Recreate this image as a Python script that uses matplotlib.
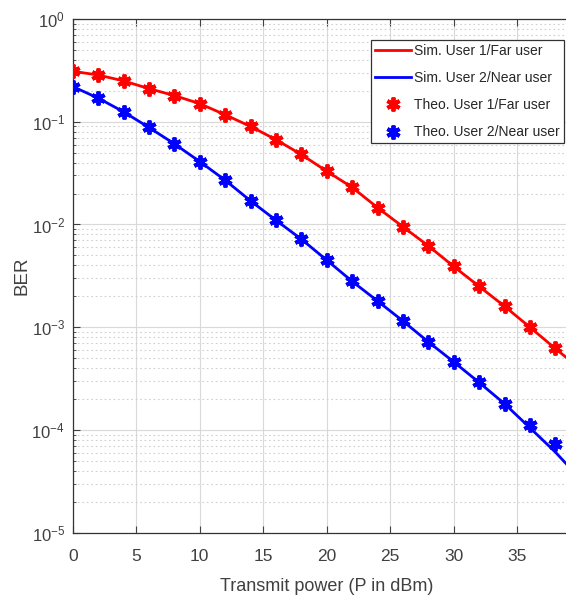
import numpy as np
import matplotlib
matplotlib.use("Agg")
import matplotlib.pyplot as plt
from matplotlib.ticker import LogLocator, NullFormatter, FixedLocator

plt.rcParams['font.family'] = ['Liberation Sans', 'DejaVu Sans']
plt.rcParams['mathtext.fontset'] = 'custom'
plt.rcParams['mathtext.rm'] = 'Liberation Sans'
plt.rcParams['mathtext.it'] = 'Liberation Sans:italic'
plt.rcParams['mathtext.bf'] = 'Liberation Sans:bold'

# Data
power_dbm = [0, 2, 4, 6, 8, 10, 12, 14, 16, 18, 20, 22, 24, 26, 28, 30, 32, 34, 36, 38]
sim_x = [0, 2, 4, 6, 8, 10, 12, 14, 16, 18, 20, 22, 24, 26, 28, 30, 32, 34, 36, 38, 40]
sim_far = [0.31, 0.285, 0.25, 0.21, 0.18, 0.15, 0.117, 0.09, 0.067, 0.048, 0.033,
           0.023, 0.0146, 0.0095, 0.0062, 0.0039, 0.0025, 0.0016, 0.00100, 0.00062, 0.00039]
sim_near = [0.22, 0.17, 0.125, 0.088, 0.061, 0.041, 0.027, 0.017, 0.011, 0.0072, 0.0045,
            0.0028, 0.0018, 0.00115, 0.00072, 0.00046, 0.00029, 0.00018, 0.000105, 0.000061, 0.000033]
theo_far = [0.31, 0.285, 0.25, 0.21, 0.18, 0.15, 0.117, 0.09, 0.067, 0.048, 0.033,
            0.023, 0.0146, 0.0095, 0.0062, 0.0039, 0.0025, 0.0016, 0.00100, 0.00063]
theo_near = [0.22, 0.17, 0.125, 0.088, 0.061, 0.041, 0.027, 0.017, 0.011, 0.0072, 0.0045,
             0.0028, 0.0018, 0.00115, 0.00072, 0.00046, 0.00029, 0.00018, 0.000113, 0.000073]
x_ticks = [0, 5, 10, 15, 20, 25, 30, 35]
labels = ['Sim. User 1/Far user', 'Sim. User 2/Near user',
          'Theo. User 1/Far user', 'Theo. User 2/Near user']

txt = '#404040'
fig = plt.figure(figsize=(5.66, 5.98), dpi=100)
ax = fig.add_axes([72.7/566, 1-532.7/598, 508/566, (532.7-19)/598])

ax.plot(sim_x, sim_far, color='#ff0000', lw=2, label=labels[0], zorder=3)
ax.plot(sim_x, sim_near, color='#0000ff', lw=2, label=labels[1], zorder=3)
ast = (6, 2, 0)
ax.plot(power_dbm, theo_far, ls='none', marker=ast, ms=10, mew=2.8, color='#ff0000', label=labels[2], zorder=4)
ax.plot(power_dbm, theo_near, ls='none', marker=ast, ms=10, mew=2.8, color='#0000ff', label=labels[3], zorder=4)

ax.set_yscale('log')
ax.set_xlim(0, 40)
ax.set_ylim(1e-5, 1)
ax.xaxis.set_major_locator(FixedLocator(x_ticks))
ax.yaxis.set_major_locator(LogLocator(base=10, numticks=10))
ax.yaxis.set_minor_locator(LogLocator(base=10, subs=np.arange(2, 10), numticks=20))
ax.yaxis.set_minor_formatter(NullFormatter())

ax.grid(True, which='major', color='#d9d9d9', lw=0.8, ls='-')
ax.grid(True, which='minor', axis='y', color='#d0d0d0', lw=0.8, ls=(0, (1.5, 2.5)))
ax.set_axisbelow(True)

ax.tick_params(which='both', direction='in', top=True, right=True, colors=txt, labelsize=12, labelcolor=txt)
ax.tick_params(which='major', length=5, width=0.8)
ax.tick_params(which='minor', length=2.5, width=0.6)
ax.tick_params(axis='x', which='major', pad=11.5, labelsize=12.5)
ax.tick_params(axis='y', which='major', pad=5.5)
for s in ax.spines.values():
    s.set_color('#333333')
    s.set_linewidth(0.9)

ax.set_xlabel('Transmit power (P in dBm)', fontsize=13, color=txt, labelpad=10)
ax.set_ylabel('BER', fontsize=13.5, color=txt, labelpad=1)

leg = ax.legend(loc='upper left', bbox_to_anchor=((371-72.7)/508, (532.7-40)/(532.7-19)),
                fontsize=10, frameon=True, fancybox=False, edgecolor='#333333',
                framealpha=1, borderpad=0.28, handlelength=2.6, labelspacing=0.95,
                handletextpad=0.25, borderaxespad=0)
leg.get_frame().set_linewidth(0.9)
for t in leg.get_texts():
    t.set_color('#262626')

fig.savefig('out.png', dpi=100)
